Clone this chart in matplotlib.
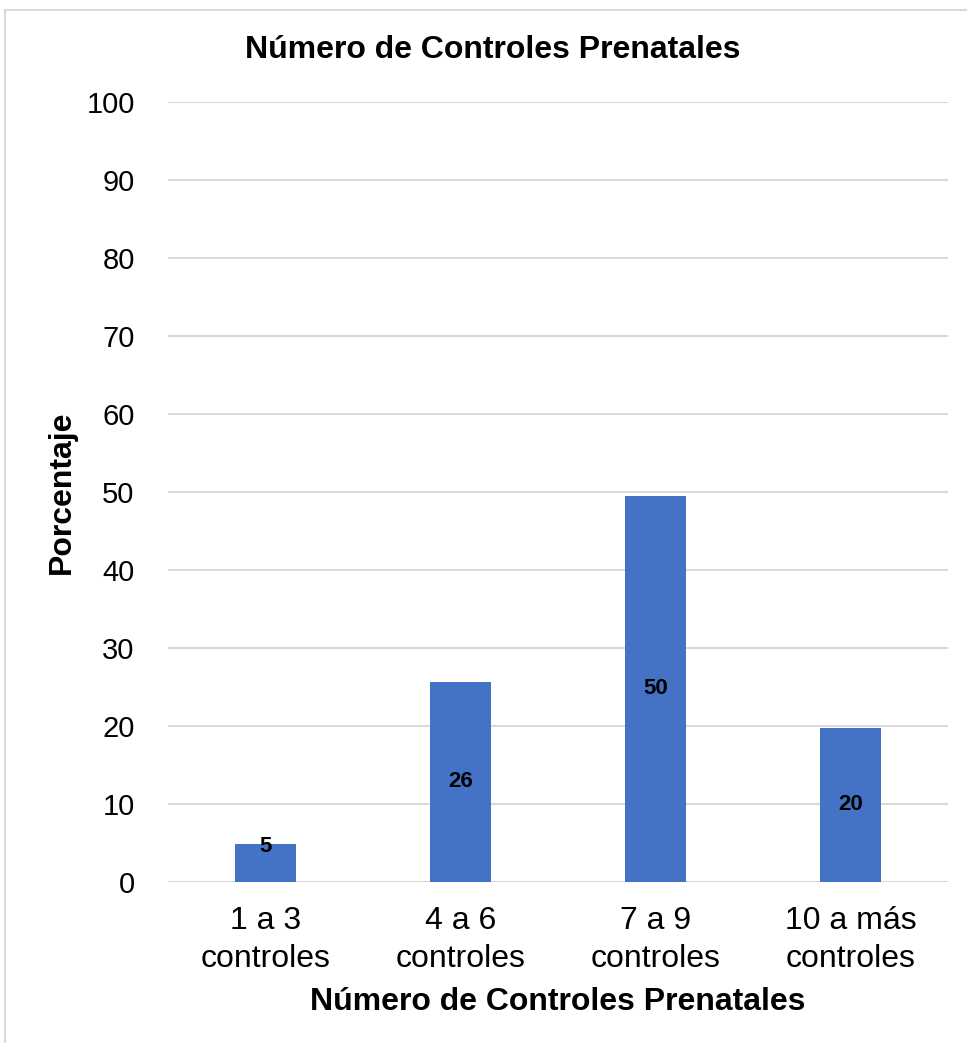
import matplotlib.pyplot as plt
from matplotlib.patches import Rectangle

plt.rcParams['font.family'] = ['Liberation Sans', 'DejaVu Sans']

categorias = ['1 a 3\ncontroles', '4 a 6\ncontroles', '7 a 9\ncontroles', '10 a más\ncontroles']
porcentajes = [4.9, 25.7, 49.5, 19.8]
etiquetas = ['5', '26', '50', '20']
yticks = list(range(0, 101, 10))

fig = plt.figure(figsize=(9.67, 10.43), dpi=100)
ax = fig.add_axes([0.1737, 0.1544, 0.8066, 0.7478])

# marco del gráfico (estilo Excel)
fig.patches.append(Rectangle((5 / 967, -0.1), 1.2, 1.1 - 10 / 1043, transform=fig.transFigure,
                             fill=False, edgecolor='#d9d9d9', linewidth=1.5))

x = range(len(categorias))
ax.bar(x, porcentajes, width=0.31, color='#4472C4', zorder=3)

for i, (v, t) in enumerate(zip(porcentajes, etiquetas)):
    y = v / 2 if v > 10 else v - 0.3  # etiquetas pequeñas arriba
    ax.text(i, y, t, ha='center', va='center', fontsize=16, fontweight='bold', zorder=4)

ax.set_xlim(-0.5, 3.5)
ax.set_ylim(0, 100)
ax.set_yticks(yticks)
ax.set_xticks(list(x))
ax.set_xticklabels(categorias, linespacing=1.35)
ax.tick_params(axis='y', length=0, pad=24, labelsize=21)
ax.tick_params(axis='x', length=0, pad=17, labelsize=23)
ax.grid(axis='y', color='#d9d9d9', linewidth=1.5, zorder=0)
for s in ax.spines.values():
    s.set_visible(False)

fig.text(62 / 967, 1 - 492 / 1043, 'Porcentaje', rotation=90, ha='center', va='center',
         fontsize=23, fontweight='bold')
fig.text(558 / 967, 1 - 1002 / 1043, 'Número de Controles Prenatales', ha='center', va='center',
         fontsize=23, fontweight='bold')
fig.text(493 / 967, 1 - 50 / 1043, 'Número de Controles Prenatales', ha='center', va='center',
         fontsize=23, fontweight='bold')

fig.savefig('out.png', dpi=100)
